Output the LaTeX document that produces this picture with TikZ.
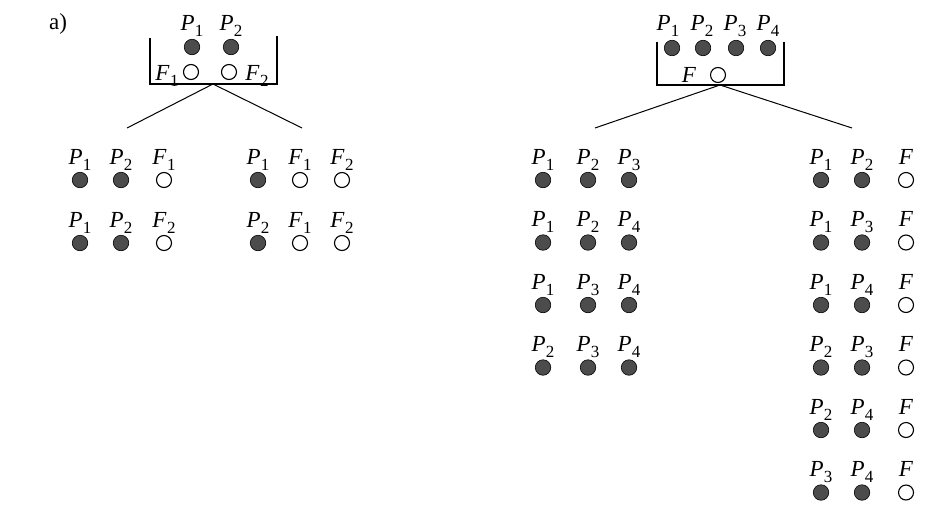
\documentclass[tikz,border=0pt]{standalone}
\usepackage{fontspec}
\setmainfont{Liberation Serif}
\newcommand\Pl[2]{\textit{#1}\kern0.3pt\raisebox{-0.28em}{\fontsize{17}{17}\selectfont #2}}
\newcommand\cell[5]{%
  \node[#1] (#2) at (#3,#4) {};
  \node[lab] (#2l) at (#3,{#4-16}) {#5};}
\begin{document}
\begin{tikzpicture}[x=1pt,y=-1pt,
  pdot/.style={circle,draw=black,fill=black!70,minimum size=15.5pt,inner sep=0pt,line width=0.6pt},
  fdot/.style={circle,draw=black,fill=white,minimum size=15pt,inner sep=0pt,line width=1.1pt},
  lab/.style={font=\fontsize{23}{27}\selectfont,inner sep=0pt,anchor=base},
  edge/.style={line width=1pt},
  box/.style={line width=1.3pt}]
\useasboundingbox (0,0) rectangle (925,506);

\node[lab] (tag) at (58,29) {a)};

% ---- left tree, top box
\node[pdot] (tp1) at (192,47) {};
\node[pdot] (tp2) at (231,47) {};
\node[lab] (tp1l) at (192,30) {\Pl{P}{1}};
\node[lab] (tp2l) at (231,30) {\Pl{P}{2}};
\node[fdot] (tf1) at (191,72) {};
\node[fdot] (tf2) at (229,72) {};
\node[lab] (tf1l) at (167,80) {\Pl{F}{1}};
\node[lab] (tf2l) at (257,80) {\Pl{F}{2}};
\coordinate (lb1) at (150,38);
\coordinate (lb2) at (150,84);
\coordinate (lb3) at (277,84);
\coordinate (lb4) at (277,36);
\draw[box] (lb1) -- (lb2) -- (lb3) -- (lb4);
\coordinate (lapex) at (213,84);
\coordinate (lendl) at (127,128);
\coordinate (lendr) at (302,128);
\draw[edge] (lendl) -- (lapex) -- (lendr);

% ---- left tree, children
\cell{pdot}{a11}{80}{180}{\Pl{P}{1}}
\cell{pdot}{a12}{121}{180}{\Pl{P}{2}}
\cell{fdot}{a13}{164}{180}{\Pl{F}{1}}
\cell{pdot}{a21}{80}{243}{\Pl{P}{1}}
\cell{pdot}{a22}{121}{243}{\Pl{P}{2}}
\cell{fdot}{a23}{164}{243}{\Pl{F}{2}}
\cell{pdot}{b11}{258}{180}{\Pl{P}{1}}
\cell{fdot}{b12}{300}{180}{\Pl{F}{1}}
\cell{fdot}{b13}{342}{180}{\Pl{F}{2}}
\cell{pdot}{b21}{258}{243}{\Pl{P}{2}}
\cell{fdot}{b22}{300}{243}{\Pl{F}{1}}
\cell{fdot}{b23}{342}{243}{\Pl{F}{2}}

% ---- right tree, top box
\node[pdot] (rp1) at (672,48) {};
\node[pdot] (rp2) at (703,48) {};
\node[pdot] (rp3) at (736,48) {};
\node[pdot] (rp4) at (768,48) {};
\node[lab] (rp1l) at (668,30) {\Pl{P}{1}};
\node[lab] (rp2l) at (702,30) {\Pl{P}{2}};
\node[lab] (rp3l) at (735,30) {\Pl{P}{3}};
\node[lab] (rp4l) at (768,30) {\Pl{P}{4}};
\node[fdot] (rf) at (718,75) {};
\node[lab] (rfl) at (689,82) {\textit{F}};
\coordinate (rb1) at (657,42);
\coordinate (rb2) at (657,85);
\coordinate (rb3) at (784,85);
\coordinate (rb4) at (784,42);
\draw[box] (rb1) -- (rb2) -- (rb3) -- (rb4);
\coordinate (rapex) at (720,85);
\coordinate (rendl) at (595,128);
\coordinate (rendr) at (852,128);
\draw[edge] (rendl) -- (rapex) -- (rendr);

% ---- right tree, left group
\cell{pdot}{c11}{543}{180}{\Pl{P}{1}}
\cell{pdot}{c12}{588}{180}{\Pl{P}{2}}
\cell{pdot}{c13}{629}{180}{\Pl{P}{3}}
\cell{pdot}{c21}{543}{242.5}{\Pl{P}{1}}
\cell{pdot}{c22}{588}{242.5}{\Pl{P}{2}}
\cell{pdot}{c23}{629}{242.5}{\Pl{P}{4}}
\cell{pdot}{c31}{543}{305}{\Pl{P}{1}}
\cell{pdot}{c32}{588}{305}{\Pl{P}{3}}
\cell{pdot}{c33}{629}{305}{\Pl{P}{4}}
\cell{pdot}{c41}{543}{367.5}{\Pl{P}{2}}
\cell{pdot}{c42}{588}{367.5}{\Pl{P}{3}}
\cell{pdot}{c43}{629}{367.5}{\Pl{P}{4}}

% ---- right tree, right group
\cell{pdot}{d11}{821}{180}{\Pl{P}{1}}
\cell{pdot}{d12}{862}{180}{\Pl{P}{2}}
\cell{fdot}{d13}{906}{180}{\textit{F}}
\cell{pdot}{d21}{821}{242.5}{\Pl{P}{1}}
\cell{pdot}{d22}{862}{242.5}{\Pl{P}{3}}
\cell{fdot}{d23}{906}{242.5}{\textit{F}}
\cell{pdot}{d31}{821}{305}{\Pl{P}{1}}
\cell{pdot}{d32}{862}{305}{\Pl{P}{4}}
\cell{fdot}{d33}{906}{305}{\textit{F}}
\cell{pdot}{d41}{821}{367.5}{\Pl{P}{2}}
\cell{pdot}{d42}{862}{367.5}{\Pl{P}{3}}
\cell{fdot}{d43}{906}{367.5}{\textit{F}}
\cell{pdot}{d51}{821}{430}{\Pl{P}{2}}
\cell{pdot}{d52}{862}{430}{\Pl{P}{4}}
\cell{fdot}{d53}{906}{430}{\textit{F}}
\cell{pdot}{d61}{821}{492.5}{\Pl{P}{3}}
\cell{pdot}{d62}{862}{492.5}{\Pl{P}{4}}
\cell{fdot}{d63}{906}{492.5}{\textit{F}}
\end{tikzpicture}
\end{document}
